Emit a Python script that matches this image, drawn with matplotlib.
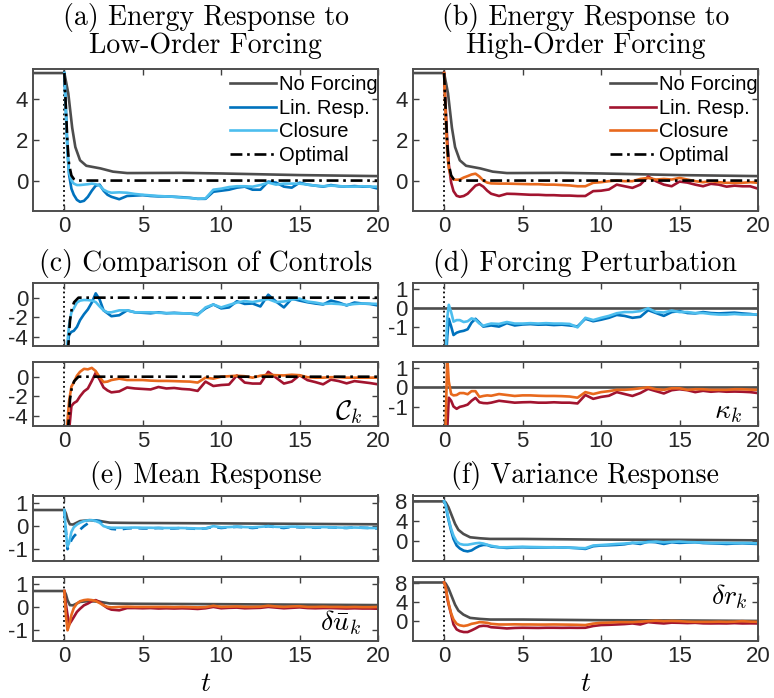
import matplotlib
matplotlib.use('Agg')
import matplotlib.pyplot as plt

plt.rcParams['font.family'] = ['Liberation Sans', 'DejaVu Sans']
plt.rcParams['mathtext.fontset'] = 'cm'
plt.rcParams['axes.unicode_minus'] = False

# --- data ------------------------------------------------------------------
# shared time samples for the oscillating curves
t_grid = [0, 0.1, 0.2, 0.3, 0.45, 0.6, 0.8, 1.0, 1.25, 1.5, 1.75, 2.0, 2.25, 2.5, 2.75, 3.0,
          3.5, 4.0, 4.5, 5.0, 5.5, 6.0, 6.5, 7.0, 7.5, 8.0, 8.5, 9.0, 9.5, 10.0, 10.5, 11.0,
          11.5, 12.0, 12.5, 13.0, 13.5, 14.0, 14.5, 15.0, 15.5, 16.0, 16.5, 17.0, 17.5, 18.0,
          18.5, 19.0, 19.5, 20.0]

# (a) / (b) energy
t_nf_energy = [-2, 0, 0.25, 0.5, 0.7, 1.0, 1.4, 2.3, 3.1, 4, 7.5, 10, 15, 20]
nf_energy = [5.3, 5.3, 4.3, 2.6, 1.65, 1.0, 0.73, 0.6, 0.44, 0.37, 0.38, 0.35, 0.27, 0.22]
t_opt_energy = [0, 0.1, 0.2, 0.3, 0.45, 0.6, 0.8, 20]
opt_energy = [5.3, 3.5, 1.8, 0.8, 0.25, 0.08, 0.0, 0.0]

lr_a = [5.3, 3.5, 1.5, 0.3, -0.4, -0.7, -0.95, -1.05, -1.0, -0.8, -0.5, -0.25, -0.2, -0.5, -0.7, -0.8,
        -0.92, -0.76, -0.74, -0.72, -0.76, -0.78, -0.78, -0.8, -0.82, -0.85, -0.9, -0.9, -0.55, -0.5,
        -0.45, -0.35, -0.3, -0.45, -0.45, -0.05, -0.1, -0.3, -0.35, -0.1, -0.2, -0.25, -0.3, -0.22,
        -0.28, -0.3, -0.27, -0.3, -0.3, -0.4]
cl_a = [5.3, 3.2, 1.3, 0.4, 0.0, -0.15, -0.22, -0.22, -0.2, -0.18, -0.15, -0.18, -0.25, -0.45, -0.55, -0.6,
        -0.58, -0.6, -0.66, -0.7, -0.73, -0.76, -0.78, -0.8, -0.84, -0.86, -0.9, -0.88, -0.45, -0.4,
        -0.32, -0.28, -0.28, -0.3, -0.22, -0.1, -0.2, -0.15, -0.15, -0.15, -0.2, -0.25, -0.28, -0.25,
        -0.27, -0.3, -0.3, -0.28, -0.3, -0.3]
lr_b = [5.3, 3.6, 2.0, 0.8, -0.1, -0.52, -0.75, -0.8, -0.76, -0.65, -0.45, -0.25, -0.18, -0.3, -0.5, -0.65,
        -0.76, -0.65, -0.66, -0.68, -0.7, -0.7, -0.72, -0.72, -0.74, -0.74, -0.76, -0.76, -0.52, -0.5,
        -0.44, -0.2, -0.28, -0.36, -0.2, 0.2, -0.03, -0.2, -0.28, -0.05, -0.1, -0.2, -0.28, -0.16,
        -0.2, -0.3, -0.25, -0.28, -0.28, -0.4]
cl_b = [5.3, 3.2, 1.4, 0.6, 0.2, 0.05, 0.04, 0.05, 0.15, 0.22, 0.3, 0.34, 0.2, 0.0, -0.1, -0.14,
        -0.15, -0.15, -0.16, -0.17, -0.18, -0.18, -0.2, -0.2, -0.22, -0.24, -0.28, -0.28, -0.11, -0.08,
        -0.03, 0.0, -0.03, -0.03, 0.08, 0.13, 0.05, 0.08, 0.05, 0.13, 0.05, -0.03, -0.08, -0.03,
        -0.08, -0.11, -0.11, -0.11, -0.08, -0.11]

# (c) controls
t_opt_ctrl = [0, 0.25, 0.36, 0.47, 0.62, 0.9, 20]
opt_ctrl = [-8, -5, -2.3, -1.15, -0.47, 0.0, 0.0]
lr_c1 = [-8, -6, -5.0, -3.8, -3.5, -3.4, -3.0, -2.3, -1.7, -1.2, -0.5, 0.44, -0.2, -1.3, -1.6, -1.9,
         -1.8, -1.3, -1.5, -1.55, -1.6, -1.5, -1.6, -1.55, -1.6, -1.62, -1.7, -1.1, -0.7, -1.1,
         -1.0, -0.37, -0.64, -0.6, -0.9, 0.3, -0.4, -1.0, -0.1, -0.3, -0.47, -0.6, -0.7, -0.3,
         -0.5, -0.8, -0.5, -0.6, -0.65, -0.8]
cl_c1 = [-8, -7, -4.5, -2.8, -1.5, -1.1, -0.5, -0.3, -0.24, -0.25, -0.3, -0.45, -0.9, -1.3, -1.5, -1.5,
         -1.3, -1.3, -1.5, -1.5, -1.5, -1.55, -1.58, -1.6, -1.6, -1.62, -1.8, -1.0, -0.7, -1.0,
         -0.75, -0.5, -0.35, -0.45, -0.3, -0.15, -0.45, -0.4, -0.2, -0.1, -0.4, -0.5, -0.65, -0.6,
         -0.65, -0.75, -0.65, -0.6, -0.62, -0.64]
lr_c2 = [-8, -8, -7, -5.5, -3.0, -2.7, -2.5, -2.0, -1.5, -1.2, -0.44, 0.4, -0.3, -1.1, -1.4, -1.6,
         -1.5, -1.1, -1.2, -1.25, -1.3, -1.05, -1.2, -1.15, -1.25, -1.3, -1.45, -0.5, -0.95, -0.85,
         -0.8, 0.13, -0.6, -0.7, -0.7, 0.5, -0.1, -0.7, -0.5, 0.15, -0.35, -0.55, -0.78, -0.3,
         -0.45, -0.68, -0.45, -0.55, -0.65, -0.78]
cl_c2 = [-8, -7, -4.5, -2.5, -1.0, -0.6, 0.1, 0.5, 0.8, 0.75, 0.9, 0.57, -0.05, -0.55, -0.5, -0.34,
         -0.2, -0.34, -0.34, -0.34, -0.4, -0.43, -0.43, -0.45, -0.48, -0.5, -0.6, -0.1, -0.2, 0.0,
         0.05, 0.1, 0.05, -0.1, 0.1, 0.2, 0.15, 0.13, 0.2, 0.15, -0.05, -0.1, -0.1, -0.05,
         -0.05, -0.1, -0.1, -0.1, -0.1, -0.1]

# (d) forcing perturbation
t_nf_forcing = [-2, 20]
nf_forcing = [0.0, 0.0]
lr_d1 = [-3, -3, -1.5, -0.55, -0.95, -1.4, -1.28, -1.22, -1.18, -1.1, -0.75, -0.55, -0.75, -0.96, -0.93, -0.9,
         -0.96, -0.78, -0.9, -0.85, -0.83, -0.86, -0.85, -0.88, -0.86, -0.9, -0.95, -0.55, -0.68, -0.6,
         -0.5, -0.35, -0.4, -0.5, -0.45, -0.1, -0.25, -0.4, -0.2, -0.15, -0.25, -0.27, -0.2, -0.25,
         -0.27, -0.25, -0.23, -0.27, -0.3, -0.35]
cl_d1 = [-3, -2.5, -0.5, 0.18, -0.2, -0.7, -0.62, -0.62, -0.72, -0.68, -0.53, -0.6, -0.8, -0.92, -0.85, -0.8,
         -0.82, -0.72, -0.8, -0.8, -0.78, -0.8, -0.78, -0.8, -0.8, -0.82, -1.0, -0.5, -0.62, -0.5,
         -0.4, -0.26, -0.2, -0.2, -0.15, 0.0, -0.2, -0.22, -0.12, -0.2, -0.2, -0.25, -0.25, -0.3,
         -0.33, -0.33, -0.3, -0.33, -0.33, -0.32]
lr_d2 = [-3, -3, -2.2, -0.54, -0.7, -1.0, -1.12, -1.02, -0.97, -0.9, -0.7, -0.55, -0.78, -0.82, -0.83, -0.8,
         -0.7, -0.75, -0.8, -0.78, -0.77, -0.8, -0.8, -0.78, -0.8, -0.8, -0.84, -0.4, -0.6, -0.5,
         -0.44, -0.25, -0.35, -0.45, -0.3, -0.08, -0.2, -0.32, -0.15, -0.1, -0.15, -0.25, -0.18, -0.23,
         -0.2, -0.23, -0.22, -0.23, -0.25, -0.3]
cl_d2 = [-3, -2.0, 1.6, 0.3, -0.35, -0.42, -0.4, -0.3, -0.3, -0.36, -0.2, -0.2, -0.5, -0.45, -0.42, -0.44,
         -0.35, -0.4, -0.45, -0.42, -0.42, -0.44, -0.45, -0.45, -0.46, -0.48, -0.54, -0.25, -0.35, -0.25,
         -0.2, -0.13, -0.13, -0.1, -0.05, 0.0, -0.1, -0.13, -0.05, -0.05, -0.13, -0.1, -0.1, -0.13,
         -0.13, -0.13, -0.1, -0.1, -0.12, -0.13]

# (e) mean response
t_nf_mean = [-2, 0, 0.1, 0.2, 0.35, 0.55, 1.0, 1.6, 2.3, 2.9, 4.2, 10, 15, 20]
nf_mean = [0.7, 0.7, 0.55, 0.3, 0.08, 0.07, 0.22, 0.26, 0.22, 0.15, 0.14, 0.12, 0.1, 0.08]
lr_e1 = [0.7, -0.2, -1.0, -0.85, -0.6, -0.45, -0.3, -0.15, 0.0, 0.12, 0.2, 0.25, 0.22, 0.08, -0.05, -0.12,
         -0.15, -0.1, -0.08, -0.1, -0.1, -0.08, -0.1, -0.1, -0.08, -0.1, -0.12, -0.1, -0.03, -0.08,
         -0.05, -0.03, -0.05, -0.08, -0.05, 0.0, -0.05, -0.08, -0.03, -0.05, -0.05, -0.07, -0.05, -0.05,
         -0.07, -0.08, -0.05, -0.07, -0.08, -0.1]
cl_e1 = [0.7, -0.3, -0.88, -0.73, -0.25, -0.05, 0.07, 0.15, 0.22, 0.25, 0.26, 0.22, 0.15, 0.0, -0.05, -0.07,
         -0.07, -0.07, -0.06, -0.07, -0.07, -0.08, -0.08, -0.08, -0.08, -0.09, -0.1, -0.1, 0.0, -0.05,
         -0.04, -0.02, -0.04, -0.05, -0.03, 0.0, -0.03, -0.04, -0.02, -0.03, -0.04, -0.05, -0.04, -0.05,
         -0.06, -0.07, -0.06, -0.07, -0.08, -0.08]
lr_e2 = [0.7, 0.1, -0.35, -0.78, -0.62, -0.45, -0.22, -0.08, 0.07, 0.15, 0.25, 0.3, 0.22, 0.07, -0.05, -0.12,
         -0.15, -0.05, -0.05, -0.06, -0.05, -0.07, -0.06, -0.07, -0.06, -0.07, -0.09, -0.06, 0.0, -0.06,
         -0.04, -0.03, -0.06, -0.05, -0.04, 0.0, -0.03, -0.06, -0.04, -0.02, -0.05, -0.06, -0.05, -0.05,
         -0.06, -0.07, -0.06, -0.07, -0.07, -0.08]
cl_e2 = [0.7, -0.4, -1.03, -0.82, -0.35, -0.05, 0.15, 0.25, 0.3, 0.32, 0.3, 0.26, 0.17, 0.07, 0.0, -0.02,
         0.0, 0.01, 0.0, 0.0, 0.0, 0.0, 0.0, -0.01, 0.0, -0.01, -0.02, -0.01, 0.05, 0.0,
         0.01, 0.02, 0.0, 0.0, 0.01, 0.05, 0.02, 0.0, 0.02, 0.03, 0.0, 0.0, 0.01, 0.0,
         0.0, -0.01, 0.0, -0.01, -0.01, 0.0]

# (f) variance response
t_nf_var = [-2, 0, 0.1, 0.28, 0.49, 0.7, 0.91, 1.23, 1.66, 2.3, 2.93, 5, 10, 15, 20]
nf_var = [8, 8, 7.8, 6.8, 5.1, 3.4, 2.2, 1.36, 0.68, 0.47, 0.34, 0.34, 0.2, 0.15, 0.05]
lr_f1 = [8, 7.4, 5.4, 4.0, 2.0, 0.34, -1.0, -1.6, -2.05, -2.2, -2.0, -1.5, -1.1, -0.88, -0.9, -1.2,
         -1.36, -1.5, -1.4, -1.36, -1.4, -1.4, -1.4, -1.36, -1.4, -1.45, -1.55, -1.7, -1.15, -1.0,
         -0.95, -0.88, -0.75, -0.47, -0.68, -0.2, -0.34, -0.68, -0.34, -0.47, -0.4, -0.34, -0.5, -0.55,
         -0.6, -0.68, -0.6, -0.55, -0.62, -0.68]
cl_f1 = [8, 7.2, 5.8, 4.2, 2.4, 1.0, -0.2, -0.68, -0.85, -0.85, -0.7, -0.55, -0.47, -0.6, -0.85, -1.05,
         -1.36, -1.36, -1.3, -1.25, -1.3, -1.33, -1.36, -1.36, -1.4, -1.45, -1.5, -1.55, -1.0, -0.9,
         -0.8, -0.68, -0.6, -0.47, -0.4, -0.34, -0.2, -0.34, -0.25, -0.2, -0.3, -0.34, -0.4, -0.47,
         -0.47, -0.47, -0.5, -0.47, -0.5, -0.55]
lr_f2 = [8, 7.2, 4.7, 3.3, 1.4, -0.68, -1.7, -2.05, -2.25, -2.25, -1.9, -1.5, -1.05, -0.95, -1.0, -1.25,
         -1.36, -1.5, -1.4, -1.36, -1.38, -1.4, -1.36, -1.36, -1.38, -1.36, -1.38, -1.36, -1.0, -0.8,
         -0.75, -0.68, -0.6, -0.47, -0.68, -0.2, -0.35, -0.47, -0.3, -0.34, -0.4, -0.34, -0.45, -0.47,
         -0.45, -0.47, -0.4, -0.47, -0.45, -0.47]
cl_f2 = [8, 7.0, 5.1, 3.5, 1.6, 0.34, -0.54, -0.85, -1.0, -0.85, -0.55, -0.4, -0.2, -0.25, -0.34, -0.55,
         -0.68, -0.68, -0.65, -0.68, -0.68, -0.7, -0.7, -0.68, -0.7, -0.72, -0.75, -0.8, -0.5, -0.34,
         -0.3, -0.2, -0.2, -0.2, -0.1, 0.0, 0.1, 0.0, 0.05, 0.0, -0.1, -0.14, -0.14, -0.14,
         -0.1, -0.14, -0.1, 0.0, -0.1, -0.14]

legend_labels = ['No Forcing', 'Lin. Resp.', 'Closure', 'Optimal']

# --- styling ----------------------------------------------------------------
GRAY = '#4d4d4d'
BLUE = '#0072bd'
LBLUE = '#4dbeee'
RED = '#a2142f'
ORANGE = '#e8691d'
LW = 1.9
DASHDOT = (0, (4.5, 1.8, 1.0, 1.8))

W, H = 774, 698


def rect(x0, y0, x1, y1):
    return [x0 / W, 1 - y1 / H, (x1 - x0) / W, (y1 - y0) / H]


def style(ax, ylim, yticks, xlabels=True):
    ax.set_xlim(-2, 20)
    ax.set_ylim(*ylim)
    ax.set_xticks([0, 5, 10, 15, 20])
    ax.set_yticks(yticks)
    ax.tick_params(direction='in', top=True, right=True, length=4, width=1.0,
                   color='0.25', labelsize=16, labelcolor='#262626', pad=3.5)
    if not xlabels:
        ax.tick_params(labelbottom=False)
    for s in ax.spines.values():
        s.set_linewidth(1.4)
        s.set_color('0.3')
    ax.axvline(0, color='k', ls=':', lw=1.3, zorder=1)


fig = plt.figure(figsize=(W / 100, H / 100), dpi=100)

LX = (33, 378)
RX = (412.7, 758)
ROW_AB = (69, 211)
ROW_C1 = (283, 346.5)
ROW_C2 = (362, 425.7)
ROW_E1 = (495.5, 560.7)
ROW_E2 = (576.7, 641)

ax_a = fig.add_axes(rect(LX[0], ROW_AB[0], LX[1], ROW_AB[1]))
ax_b = fig.add_axes(rect(RX[0], ROW_AB[0], RX[1], ROW_AB[1]))
ax_c1 = fig.add_axes(rect(LX[0], ROW_C1[0], LX[1], ROW_C1[1]))
ax_c2 = fig.add_axes(rect(LX[0], ROW_C2[0], LX[1], ROW_C2[1]))
ax_d1 = fig.add_axes(rect(RX[0], ROW_C1[0], RX[1], ROW_C1[1]))
ax_d2 = fig.add_axes(rect(RX[0], ROW_C2[0], RX[1], ROW_C2[1]))
ax_e1 = fig.add_axes(rect(LX[0], ROW_E1[0], LX[1], ROW_E1[1]))
ax_e2 = fig.add_axes(rect(LX[0], ROW_E2[0], LX[1], ROW_E2[1]))
ax_f1 = fig.add_axes(rect(RX[0], ROW_E1[0], RX[1], ROW_E1[1]))
ax_f2 = fig.add_axes(rect(RX[0], ROW_E2[0], RX[1], ROW_E2[1]))

# (a) and (b)
for ax, lr, cl, c_lr, c_cl in [(ax_a, lr_a, cl_a, BLUE, LBLUE), (ax_b, lr_b, cl_b, RED, ORANGE)]:
    ax.plot(t_nf_energy, nf_energy, color=GRAY, lw=LW, label=legend_labels[0])
    ax.plot(t_grid, lr, color=c_lr, lw=LW, label=legend_labels[1])
    ax.plot(t_grid, cl, color=c_cl, lw=LW, label=legend_labels[2])
    ax.plot(t_opt_energy, opt_energy, color='k', lw=LW, ls=DASHDOT, label=legend_labels[3])
    style(ax, (-1.5, 5.5), [0, 2, 4])
    ax.legend(loc='upper right', bbox_to_anchor=(1.0, 0.955), frameon=False, fontsize=14.5,
              borderpad=0, borderaxespad=0, handlelength=2.3, handletextpad=0.15,
              labelspacing=0.22)

# (c)
for ax, lr, cl, c_lr, c_cl, xl in [(ax_c1, lr_c1, cl_c1, BLUE, LBLUE, False),
                                   (ax_c2, lr_c2, cl_c2, RED, ORANGE, True)]:
    ax.plot(t_grid, lr, color=c_lr, lw=LW)
    ax.plot(t_grid, cl, color=c_cl, lw=LW)
    ax.plot(t_opt_ctrl, opt_ctrl, color='k', lw=LW, ls=DASHDOT)
    style(ax, (-5, 1.5), [-4, -2, 0], xlabels=xl)

# (d)
for ax, lr, cl, c_lr, c_cl, xl in [(ax_d1, lr_d1, cl_d1, BLUE, LBLUE, False),
                                   (ax_d2, lr_d2, cl_d2, RED, ORANGE, True)]:
    ax.plot(t_nf_forcing, nf_forcing, color=GRAY, lw=LW)
    ax.plot(t_grid, lr, color=c_lr, lw=LW)
    ax.plot(t_grid, cl, color=c_cl, lw=LW)
    style(ax, (-2, 1.32), [-1, 0, 1], xlabels=xl)

# (e)
ax_e1.plot(t_nf_mean, nf_mean, color=GRAY, lw=LW)
ax_e1.plot(t_grid, lr_e1, color=BLUE, lw=LW, ls=(0, (3.5, 2.5)))
ax_e1.plot(t_grid, cl_e1, color=LBLUE, lw=LW)
style(ax_e1, (-1.5, 1.33), [-1, 0, 1], xlabels=False)
ax_e2.plot(t_nf_mean, nf_mean, color=GRAY, lw=LW)
ax_e2.plot(t_grid, lr_e2, color=RED, lw=LW)
ax_e2.plot(t_grid, cl_e2, color=ORANGE, lw=LW)
style(ax_e2, (-1.5, 1.33), [-1, 0, 1])

# (f)
for ax, lr, cl, c_lr, c_cl, xl in [(ax_f1, lr_f1, cl_f1, BLUE, LBLUE, False),
                                   (ax_f2, lr_f2, cl_f2, RED, ORANGE, True)]:
    ax.plot(t_nf_var, nf_var, color=GRAY, lw=LW)
    ax.plot(t_grid, lr, color=c_lr, lw=LW)
    ax.plot(t_grid, cl, color=c_cl, lw=LW)
    style(ax, (-4.1, 9.2), [0, 4, 8], xlabels=xl)

# titles (serif, Computer Modern look)
cx_l = (LX[0] + LX[1]) / 2 / W
cx_r = (RX[0] + RX[1]) / 2 / W
title_kw = dict(ha='center', va='center', fontsize=20, family='cmr10')
fig.text(cx_l, 1 - 17 / H, '(a) Energy Response to', **title_kw)
fig.text(cx_l, 1 - 46 / H, 'Low-Order Forcing', **title_kw)
fig.text(cx_r, 1 - 17 / H, '(b) Energy Response to', **title_kw)
fig.text(cx_r, 1 - 46 / H, 'High-Order Forcing', **title_kw)
fig.text(cx_l, 1 - 264 / H, '(c) Comparison of Controls', **title_kw)
fig.text(cx_r, 1 - 264 / H, '(d) Forcing Perturbation', **title_kw)
fig.text(cx_l, 1 - 476 / H, '(e) Mean Response', **title_kw)
fig.text(cx_r, 1 - 476 / H, '(f) Variance Response', **title_kw)

# variable labels
ax_c2.text(0.915, 0.21, r'$\mathcal{C}_k$', transform=ax_c2.transAxes, fontsize=20,
           ha='center', va='center')
ax_d2.text(0.913, 0.22, r'$\kappa_k$', transform=ax_d2.transAxes, fontsize=20,
           ha='center', va='center')
ax_e2.text(0.893, 0.28, r'$\delta\bar{u}_k$', transform=ax_e2.transAxes, fontsize=20,
           ha='center', va='center')
ax_f2.text(0.917, 0.69, r'$\delta r_k$', transform=ax_f2.transAxes, fontsize=20,
           ha='center', va='center')

# x labels
fig.text(cx_l, 1 - 684 / H, r'$t$', ha='center', va='center', fontsize=20)
fig.text(cx_r, 1 - 684 / H, r'$t$', ha='center', va='center', fontsize=20)

fig.savefig('out.png', dpi=100)
